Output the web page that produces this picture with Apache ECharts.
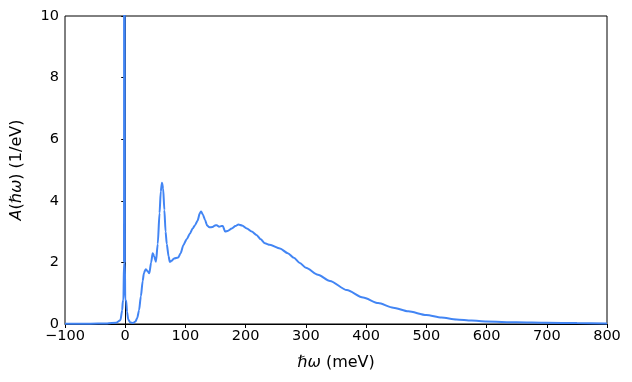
<!DOCTYPE html>
<html>
<head>
<meta charset="utf-8">
<script src="https://cdn.jsdelivr.net/npm/echarts@6/dist/echarts.min.js"></script>
<style>html,body{margin:0;padding:0;background:#fff}#c{width:632px;height:382px}</style>
</head>
<body>
<div id="c"></div>
<script>
// Energy (meV)
const energy = [-100,-60,-30,-15,-8,-5,-4,-3,-2,-1.5,-1,-0.5,0,1.5,3,5,8,13,17,20,23,26,29,31,34,37,40,43,45.6,48,51,54,57,59,61,63,65,67,69,72,74,77,81,88,92,96.5,102,107.6,112,116,120,124,126,129,132.5,136,139.7,145,149,152,156,160,162,166,170,177,183,188,194,202,210,218,225,232,240,257,270,280,290,300,320,340,368,395,420,445,470,500,525,550,575,600,650,700,750,800];
// Spectral function A (1/eV)
const spectral = [0.01,0.01,0.02,0.04,0.12,0.45,0.74,0.78,2,40,40,2,0.78,0.76,0.4,0.15,0.06,0.03,0.08,0.2,0.45,0.9,1.4,1.65,1.78,1.72,1.65,2.0,2.3,2.2,2.02,2.6,3.6,4.3,4.59,4.4,3.7,3.0,2.6,2.2,2.02,2.05,2.13,2.16,2.3,2.56,2.75,2.94,3.1,3.21,3.35,3.6,3.65,3.55,3.38,3.2,3.14,3.15,3.2,3.21,3.16,3.18,3.18,3.0,3.02,3.1,3.18,3.23,3.2,3.1,3.0,2.89,2.75,2.62,2.57,2.45,2.3,2.15,1.98,1.83,1.6,1.4,1.1,0.86,0.68,0.53,0.41,0.29,0.21,0.15,0.11,0.08,0.055,0.04,0.03,0.02];
const xTicks = {min:-100, max:800, step:100};
const yTicks = {min:0, max:10, step:2};

const font = 'DejaVu Sans';
const tickSize = 14.5, labelSize = 16;
const chart = echarts.init(document.getElementById('c'));
chart.setOption({
  animation:false,
  grid:{left:65,right:25,top:16,bottom:58,show:true,borderColor:'#000',borderWidth:1,backgroundColor:'transparent'},
  xAxis:{type:'value',min:xTicks.min,max:xTicks.max,interval:xTicks.step,
    name:'{i|ℏω} (meV)',nameLocation:'middle',nameGap:31,
    nameTextStyle:{fontFamily:font,fontSize:labelSize,color:'#000',rich:{i:{fontStyle:'italic',fontFamily:font,fontSize:labelSize,color:'#000'}}},
    axisLine:{show:true,lineStyle:{color:'#000',width:1}},
    axisTick:{show:true,inside:false,length:4,lineStyle:{color:'#000'}},
    axisLabel:{fontFamily:font,fontSize:tickSize,color:'#000',margin:5,formatter:v=>String(v).replace('-','\u2212')},
    splitLine:{show:false}},
  yAxis:{type:'value',min:yTicks.min,max:yTicks.max,interval:yTicks.step,
    name:'{i|A}({i|ℏω}) (1/eV)',nameLocation:'middle',nameGap:40,
    nameTextStyle:{fontFamily:font,fontSize:labelSize,color:'#000',rich:{i:{fontStyle:'italic',fontFamily:font,fontSize:labelSize,color:'#000'}}},
    axisLine:{show:true,lineStyle:{color:'#000',width:1}},
    axisTick:{show:true,inside:false,length:4,lineStyle:{color:'#000'}},
    axisLabel:{fontFamily:font,fontSize:tickSize,color:'#000',margin:6},
    splitLine:{show:false}},
  series:[{type:'line',data:energy.map((e,i)=>[e,spectral[i]]),showSymbol:false,
    smooth:0.25,smoothMonotone:'x',clip:true,
    lineStyle:{color:'#4285F4',width:2}}]
});
</script>
</body>
</html>
